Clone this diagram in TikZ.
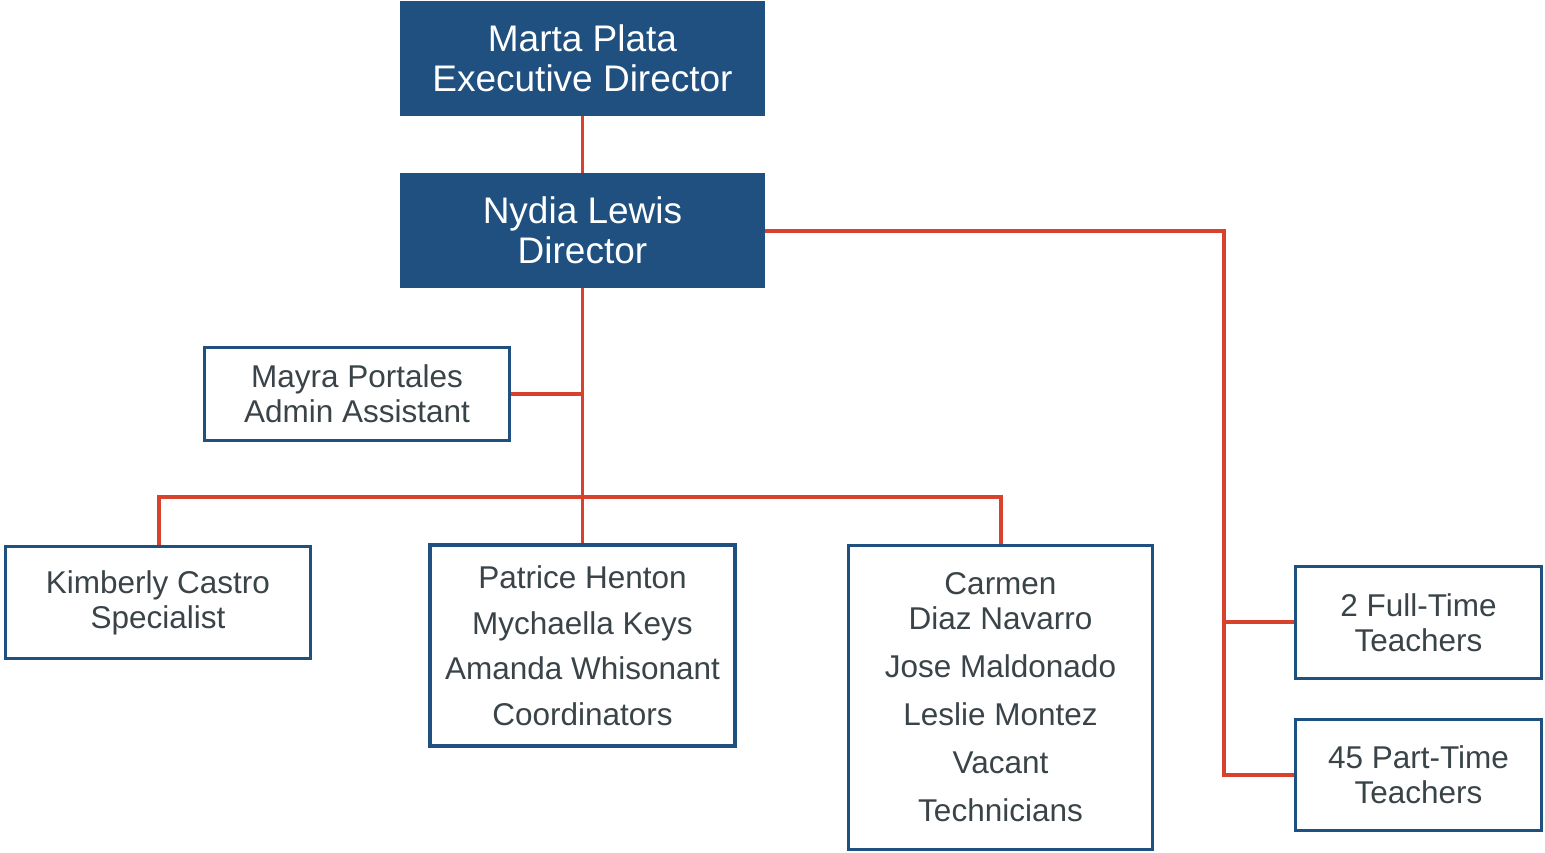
\documentclass[tikz,border=0pt]{standalone}
\usepackage{fontspec}
\setmainfont{Liberation Sans}
\definecolor{boxblue}{HTML}{1F5080}
\definecolor{linkred}{HTML}{D8412B}
\definecolor{txtgray}{HTML}{3A4448}
\tikzset{
  topbox/.style={fill=boxblue, draw=none, text=white, align=center, inner sep=0pt,
    font=\fontsize{37}{40}\selectfont},
  staffbox/.style={draw=boxblue, line width=3.5pt, fill=white, text=txtgray, align=center, inner sep=0pt,
    font=\fontsize{31.5}{35}\selectfont},
  link/.style={draw=linkred, line width=3.5pt}
}
\begin{document}
\begin{tikzpicture}[x=1pt,y=-1pt]
\useasboundingbox (0,0) rectangle (1545,853);
% top boxes
\node[topbox, minimum width=365pt, minimum height=115pt] (marta) at (582.5,58.5) {Marta Plata\\Executive Director};
\node[topbox, minimum width=365pt, minimum height=115pt] (nydia) at (582.5,230.5) {Nydia Lewis\\Director};
% staff boxes
\node[staffbox, minimum width=305pt, minimum height=93pt] (mayra) at (357,394) {Mayra Portales\\Admin Assistant};
\node[staffbox, minimum width=305pt, minimum height=112pt] (kim) at (158,602.5) {Kimberly Castro\\Specialist};
\node[staffbox, minimum width=305pt, minimum height=201pt] (pat) at (582.5,645.5)
  {Patrice Henton\\[10.5pt]Mychaella Keys\\[10.5pt]Amanda Whisonant\\[10.5pt]Coordinators};
\node[staffbox, minimum width=304pt, minimum height=304pt] (car) at (1000.5,697.5)
  {Carmen\\Diaz Navarro\\[13pt]Jose Maldonado\\[13pt]Leslie Montez\\[13pt]Vacant\\[13pt]Technicians};
\node[staffbox, minimum width=246pt, minimum height=112pt] (full) at (1418.5,622.5) {2 Full-Time\\Teachers};
\node[staffbox, minimum width=246pt, minimum height=111pt] (part) at (1418.5,775) {45 Part-Time\\Teachers};
% connector coordinates
\coordinate (j1) at (582.5,394);
\coordinate (j2) at (582.5,497);
\coordinate (kimtop) at (159,497);
\coordinate (cartop) at (1001,497);
\coordinate (r1) at (1224,231);
\coordinate (r2) at (1224,622);
\coordinate (r3) at (1224,775);
% connectors
\draw[link] (marta.south) -- (nydia.north);
\draw[link] (nydia.south) -- (pat.north);
\draw[link] (mayra.east) -- (j1);
\draw[link] (kim.north -| kimtop) -- (kimtop) -- (cartop) -- (car.north -| cartop);
\draw[link] (nydia.east |- r1) -- (r1) -- (r3) -- (part.west |- r3);
\draw[link] (r2) -- (full.west |- r2);
\end{tikzpicture}
\end{document}
